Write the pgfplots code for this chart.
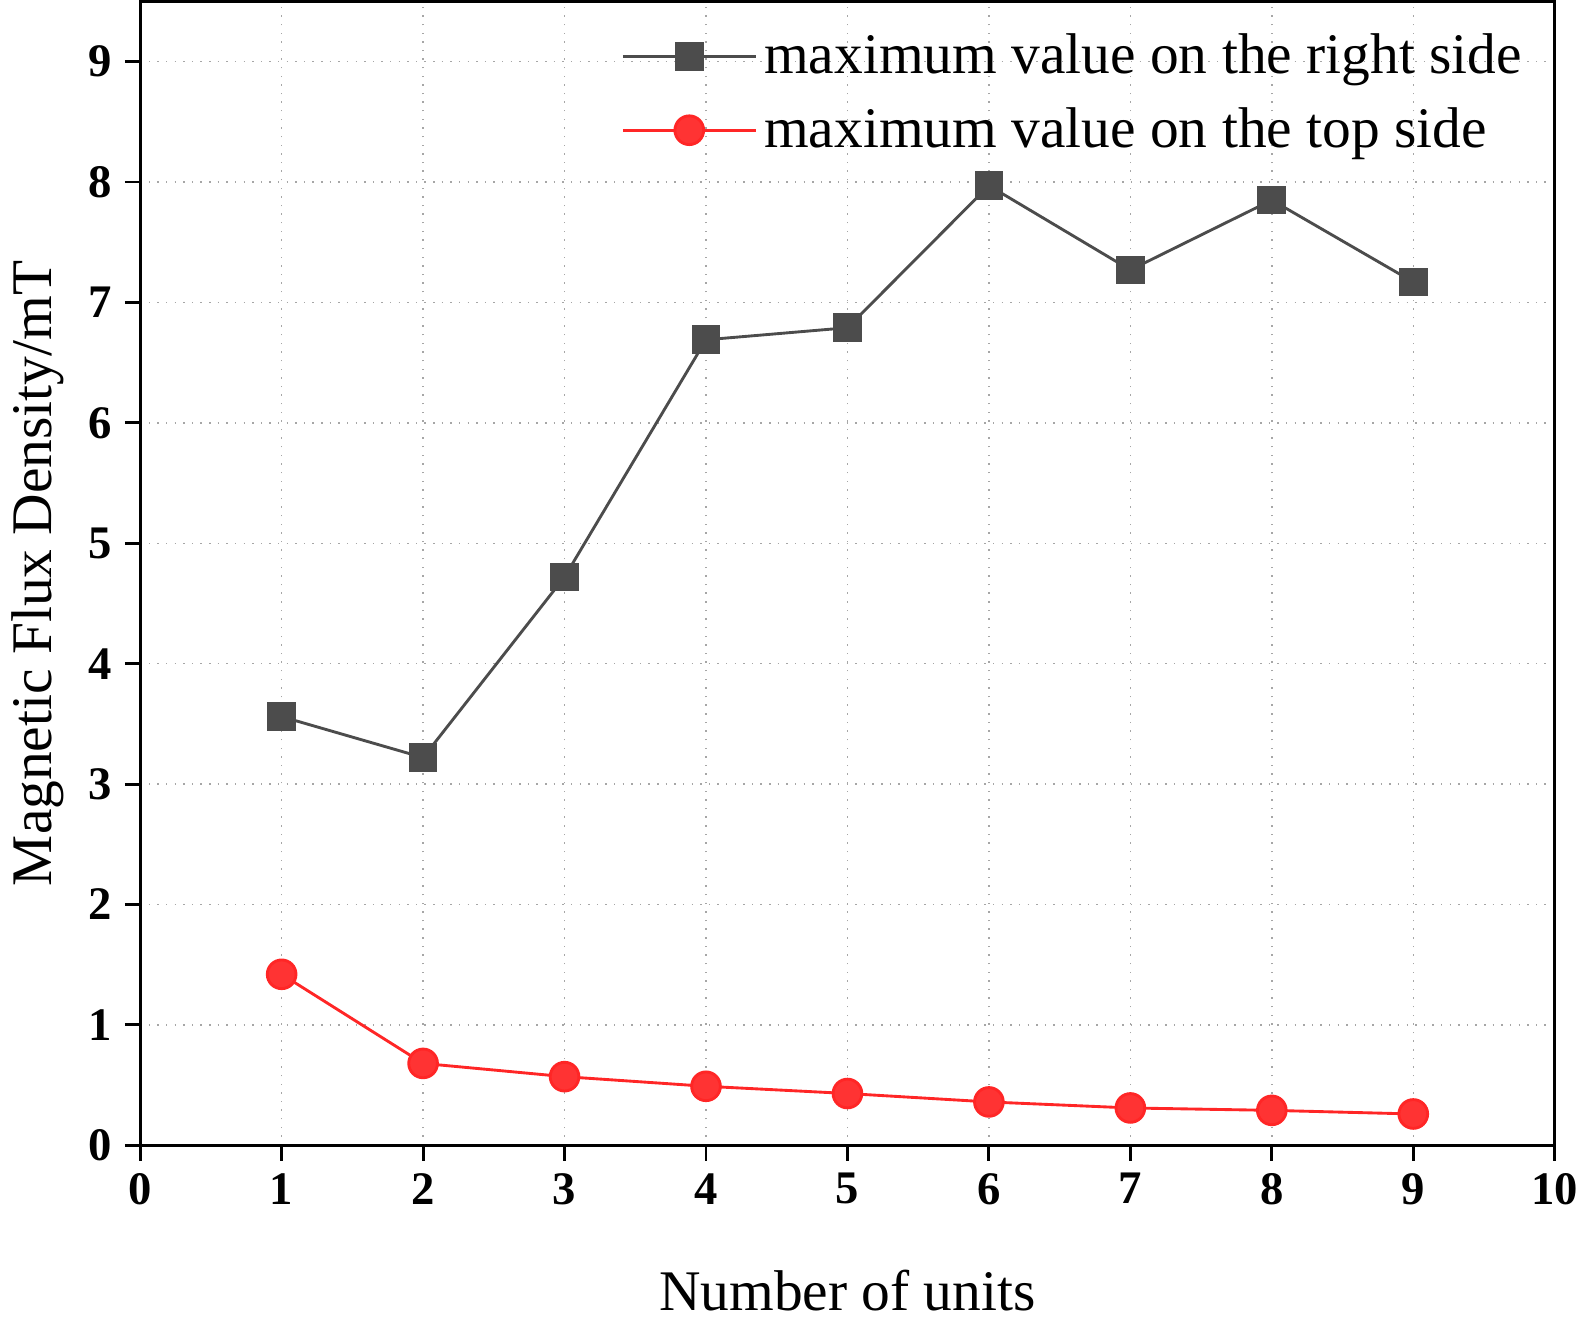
\documentclass[border=0pt]{standalone}
\usepackage{pgfplots}
\pgfplotsset{compat=1.18}
\usepackage{fontspec}
\setmainfont{Liberation Serif}
\begin{document}
\begin{tikzpicture}
\begin{axis}[
 scale only axis, width=13.85cm, height=11.2cm,
 xmin=0, xmax=10, ymin=0, ymax=9.5,
 xtick={0,...,10}, ytick={0,...,9},
 xtick pos=bottom, ytick pos=left,
 /pgf/number format/assume math mode=true,
 ticklabel style={font=\fontsize{13}{15}\selectfont\bfseries},
 tick align=outside, tick style={black, thick},
 axis line style={thick},
 grid=major, grid style={dotted, gray!70},
 xlabel={Number of units}, ylabel={Magnetic Flux Density/mT},
 xlabel style={yshift=-0.4cm},
 label style={font=\fontsize{16}{18}\selectfont},
 legend style={draw=none, fill=none, at={(0.99,0.985)}, anchor=north east, font=\fontsize{16}{18}\selectfont, row sep=4pt},
 legend cell align=left,
 legend image code/.code={\draw[#1] (0cm,0cm) -- (1.3cm,0cm); \draw[#1, only marks] plot coordinates {(0.65cm,0cm)};},
]
\addplot[color=black!70, thick, mark=square*, mark size=3.6pt] coordinates {
(1,3.56)(2,3.22)(3,4.72)(4,6.69)(5,6.79)(6,7.97)(7,7.27)(8,7.85)(9,7.17)};
\addlegendentry{maximum value on the right side}
\addplot[color=red!85!white, thick, mark=*, mark size=4pt, mark options={fill=red!80!white}] coordinates {
(1,1.42)(2,0.68)(3,0.57)(4,0.49)(5,0.43)(6,0.36)(7,0.31)(8,0.29)(9,0.26)};
\addlegendentry{maximum value on the top side}
\end{axis}
\end{tikzpicture}
\end{document}
